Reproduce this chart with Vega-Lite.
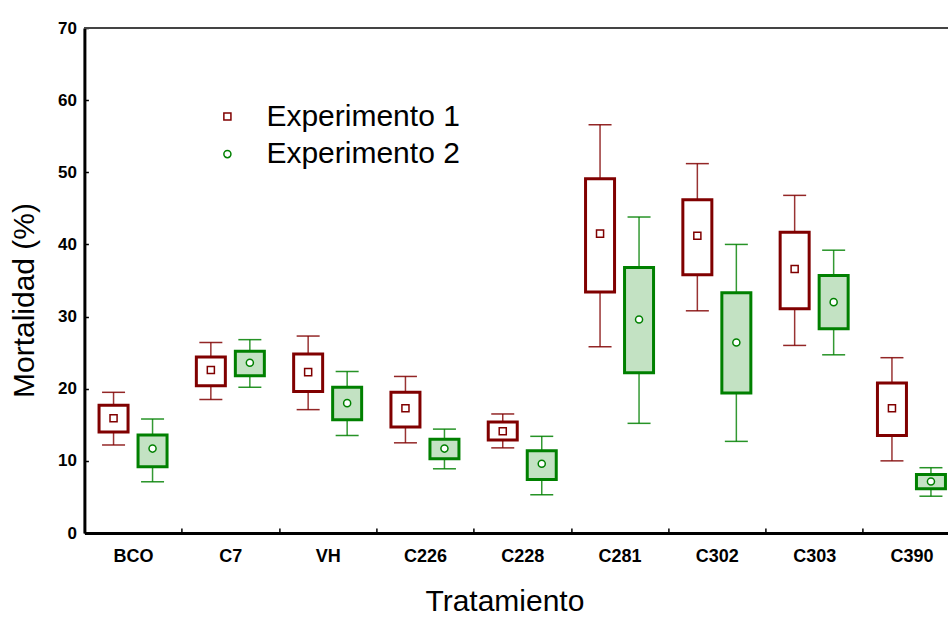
{
  "$schema": "https://vega.github.io/schema/vega-lite/v6.json",
  "autosize": "none",
  "padding": {"left": 84.4, "top": 28, "right": 0, "bottom": 84},
  "width": 863.6,
  "height": 505,
  "background": "white",
  "config": {
    "view": {"stroke": null},
    "font": "Liberation Sans",
    "axis": {
      "domainColor": "black",
      "domainWidth": 3,
      "tickColor": "black",
      "tickWidth": 1.5,
      "grid": false,
      "labelFont": "Liberation Sans",
      "labelFontWeight": "bold",
      "labelColor": "black",
      "titleFont": "Liberation Sans",
      "titleFontWeight": "normal",
      "titleColor": "black",
      "titleFontSize": 30
    },
    "legend": {
      "orient": "none",
      "padding": 0,
      "labelFontSize": 30,
      "labelFont": "Liberation Sans",
      "labelColor": "black",
      "labelLimit": 0,
      "labelOffset": 24,
      "symbolSize": 50,
      "symbolStrokeWidth": 1.5,
      "symbolFillColor": "white"
    }
  },
  "resolve": {"scale": {"stroke": "independent"}, "legend": {"stroke": "independent"}},
  "data": {
    "values": [
      {"trat": "BCO", "exp": "Experimento 1", "media": 15.9, "cajaInf": 14.0, "cajaSup": 17.7, "bigInf": 12.2, "bigSup": 19.5},
      {"trat": "BCO", "exp": "Experimento 2", "media": 11.7, "cajaInf": 9.2, "cajaSup": 13.6, "bigInf": 7.1, "bigSup": 15.8},
      {"trat": "C7", "exp": "Experimento 1", "media": 22.6, "cajaInf": 20.4, "cajaSup": 24.4, "bigInf": 18.5, "bigSup": 26.4},
      {"trat": "C7", "exp": "Experimento 2", "media": 23.6, "cajaInf": 21.8, "cajaSup": 25.2, "bigInf": 20.2, "bigSup": 26.8},
      {"trat": "VH", "exp": "Experimento 1", "media": 22.3, "cajaInf": 19.6, "cajaSup": 24.8, "bigInf": 17.1, "bigSup": 27.3},
      {"trat": "VH", "exp": "Experimento 2", "media": 18.0, "cajaInf": 15.7, "cajaSup": 20.2, "bigInf": 13.5, "bigSup": 22.4},
      {"trat": "C226", "exp": "Experimento 1", "media": 17.3, "cajaInf": 14.7, "cajaSup": 19.5, "bigInf": 12.5, "bigSup": 21.7},
      {"trat": "C226", "exp": "Experimento 2", "media": 11.7, "cajaInf": 10.3, "cajaSup": 13.0, "bigInf": 8.9, "bigSup": 14.4},
      {"trat": "C228", "exp": "Experimento 1", "media": 14.1, "cajaInf": 12.9, "cajaSup": 15.4, "bigInf": 11.8, "bigSup": 16.5},
      {"trat": "C228", "exp": "Experimento 2", "media": 9.6, "cajaInf": 7.4, "cajaSup": 11.4, "bigInf": 5.3, "bigSup": 13.4},
      {"trat": "C281", "exp": "Experimento 1", "media": 41.5, "cajaInf": 33.4, "cajaSup": 49.1, "bigInf": 25.8, "bigSup": 56.6},
      {"trat": "C281", "exp": "Experimento 2", "media": 29.6, "cajaInf": 22.2, "cajaSup": 36.8, "bigInf": 15.2, "bigSup": 43.8},
      {"trat": "C302", "exp": "Experimento 1", "media": 41.2, "cajaInf": 35.8, "cajaSup": 46.2, "bigInf": 30.8, "bigSup": 51.2},
      {"trat": "C302", "exp": "Experimento 2", "media": 26.4, "cajaInf": 19.4, "cajaSup": 33.3, "bigInf": 12.7, "bigSup": 40.0},
      {"trat": "C303", "exp": "Experimento 1", "media": 36.6, "cajaInf": 31.1, "cajaSup": 41.7, "bigInf": 26.0, "bigSup": 46.8},
      {"trat": "C303", "exp": "Experimento 2", "media": 32.0, "cajaInf": 28.3, "cajaSup": 35.7, "bigInf": 24.7, "bigSup": 39.2},
      {"trat": "C390", "exp": "Experimento 1", "media": 17.3, "cajaInf": 13.5, "cajaSup": 20.8, "bigInf": 10.0, "bigSup": 24.3},
      {"trat": "C390", "exp": "Experimento 2", "media": 7.15, "cajaInf": 6.15, "cajaSup": 8.1, "bigInf": 5.1, "bigSup": 9.05}
    ]
  },
  "encoding": {
    "x": {
      "field": "trat",
      "type": "nominal",
      "sort": null,
      "scale": {"range": [0, 875.7], "paddingInner": 0, "paddingOuter": 0},
      "axis": {
        "title": "Tratamiento",
        "labelAngle": 0,
        "labelFontSize": 18,
        "labelBaseline": "alphabetic",
        "labelPadding": 33,
        "tickBand": "extent",
        "tickSize": -5,
        "titleX": 420,
        "titleY": 77,
        "titleBaseline": "alphabetic"
      }
    },
    "xOffset": {
      "field": "exp",
      "type": "nominal",
      "scale": {"paddingInner": 0, "paddingOuter": 0.2474}
    }
  },
  "layer": [
    {
      "mark": {"type": "rule", "color": "#444444", "strokeWidth": 1.5},
      "encoding": {"x": null, "xOffset": null, "y": {"datum": 70, "type": "quantitative"}}
    },
    {
      "mark": {"type": "rule", "strokeWidth": 1.5, "strokeOpacity": 0.8},
      "encoding": {
        "y": {
          "field": "bigInf",
          "type": "quantitative",
          "scale": {"domain": [0, 70], "nice": false},
          "axis": {
            "title": "Mortalidad (%)",
            "values": [0, 10, 20, 30, 40, 50, 60, 70],
            "labelFontSize": 17,
            "tickSize": -4,
            "labelPadding": 12,
            "titleX": -51.4,
            "titleY": 272,
            "titleBaseline": "alphabetic"
          }
        },
        "y2": {"field": "bigSup"},
        "stroke": {
          "field": "exp",
          "type": "nominal",
          "scale": {"domain": ["Experimento 1", "Experimento 2"], "range": ["#800000", "#008000"]},
          "legend": null
        }
      }
    },
    {
      "mark": {"type": "tick", "size": 23, "thickness": 1.5, "opacity": 0.85},
      "encoding": {
        "y": {"field": "bigInf", "type": "quantitative"},
        "color": {
          "field": "exp",
          "type": "nominal",
          "scale": {"domain": ["Experimento 1", "Experimento 2"], "range": ["#800000", "#008000"]},
          "legend": null
        }
      }
    },
    {
      "mark": {"type": "tick", "size": 23, "thickness": 1.5, "opacity": 0.85},
      "encoding": {
        "y": {"field": "bigSup", "type": "quantitative"},
        "color": {"field": "exp", "type": "nominal", "legend": null}
      }
    },
    {
      "mark": {"type": "bar", "width": 29, "strokeWidth": 3},
      "encoding": {
        "y": {"field": "cajaInf", "type": "quantitative"},
        "y2": {"field": "cajaSup"},
        "fill": {
          "field": "exp",
          "type": "nominal",
          "scale": {"domain": ["Experimento 1", "Experimento 2"], "range": ["#ffffff", "#c3e2c3"]},
          "legend": null
        },
        "stroke": {
          "field": "exp",
          "type": "nominal",
          "scale": {"domain": ["Experimento 1", "Experimento 2"], "range": ["#800000", "#008000"]},
          "legend": null
        }
      }
    },
    {
      "transform": [{"filter": {"field": "exp", "equal": "Experimento 1"}}],
      "mark": {"type": "point", "shape": "square", "filled": false, "fill": "white", "fillOpacity": 1, "size": 50, "strokeWidth": 1.5, "opacity": 1},
      "encoding": {
        "y": {"field": "media", "type": "quantitative"},
        "stroke": {
          "field": "exp",
          "type": "nominal",
          "scale": {"domain": ["Experimento 1"], "range": ["#800000"]},
          "legend": {"title": null, "orient": "none", "legendX": 128, "legendY": 73.5, "symbolType": "square"}
        }
      }
    },
    {
      "transform": [{"filter": {"field": "exp", "equal": "Experimento 2"}}],
      "mark": {"type": "point", "shape": "circle", "filled": false, "fill": "white", "fillOpacity": 1, "size": 50, "strokeWidth": 1.5, "opacity": 1},
      "encoding": {
        "y": {"field": "media", "type": "quantitative"},
        "stroke": {
          "field": "exp",
          "type": "nominal",
          "scale": {"domain": ["Experimento 2"], "range": ["#008000"]},
          "legend": {"title": null, "orient": "none", "legendX": 128, "legendY": 111.1, "symbolType": "circle"}
        }
      }
    }
  ]
}
